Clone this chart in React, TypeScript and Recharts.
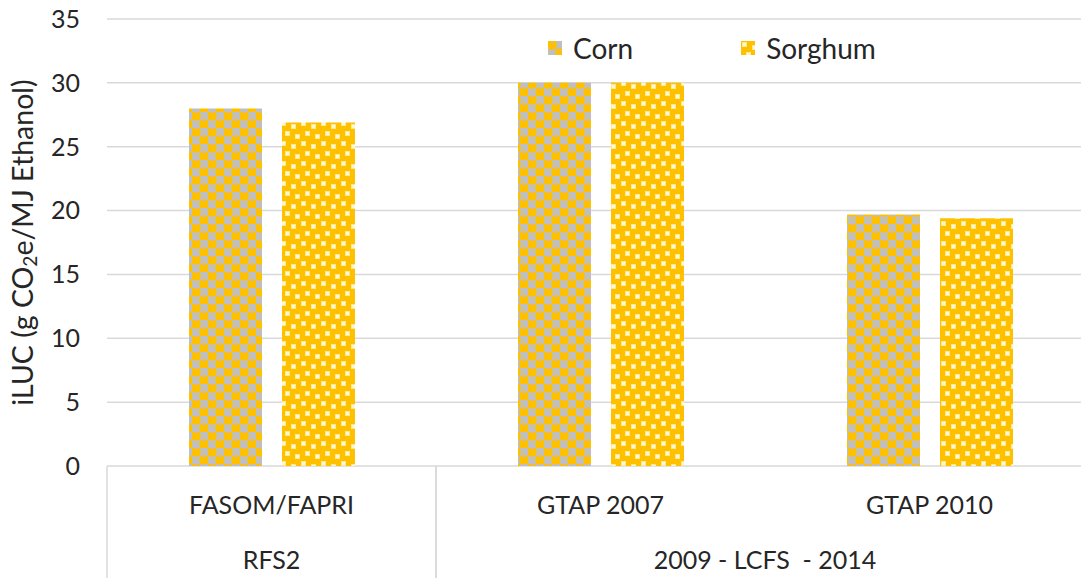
import React from 'react';
import { BarChart, Bar, XAxis, YAxis, CartesianGrid } from 'recharts';

const models = ['FASOM/FAPRI', 'GTAP 2007', 'GTAP 2010'];
const groups = ['RFS2', '2009 - LCFS  - 2014', '2009 - LCFS  - 2014'];
const cornValues = [28.0, 30.0, 19.7];
const sorghumValues = [26.9, 30.0, 19.4];
const yTicks = [0, 5, 10, 15, 20, 25, 30, 35];
const seriesNames = ['Corn', 'Sorghum'];

const data = models.map((m, i) => ({
  model: m,
  group: groups[i],
  corn: cornValues[i],
  sorghum: sorghumValues[i],
}));

const FONT = 'Lato, "Open Sans", sans-serif';
const TEXT = '#262626';
const GOLD = '#FFC000';
const GRAY = '#BFBFBF';
const LIGHT = '#FFE98F';
const LIGHTER = '#FFF7D6';
const GRID = '#D9D9D9';
const CHART_H = 578;

const confetti = [
  [1, 1],
  [11, 4],
  [5, 11],
  [15, 14],
];

const Patterns = () => (
  <svg width={0} height={0} style={{ position: 'absolute' }}>
    <defs>
      <pattern id="cornPat" width={16} height={16} patternUnits="userSpaceOnUse">
        <rect x={0} y={0} width={16} height={16} fill={GRAY} />
        <rect x={0} y={0} width={8} height={8} fill={GOLD} />
        <rect x={8} y={8} width={8} height={8} fill={GOLD} />
        <circle cx={4} cy={4} r={4.8} fill={GOLD} />
        <circle cx={12} cy={12} r={4.8} fill={GOLD} />
        <rect x={3} y={1} width={3} height={1} fill={GRAY} />
        <rect x={11} y={9} width={3} height={1} fill={GRAY} />
      </pattern>
      <pattern id="sorghumPat" width={20} height={20} patternUnits="userSpaceOnUse">
        <rect x={0} y={0} width={20} height={20} fill={GOLD} />
        {confetti.map(([cx, cy], k) => (
          <g key={k}>
            <rect x={cx} y={cy} width={5} height={5} fill={LIGHT} />
            <rect x={cx + 1} y={cy + 1} width={3} height={3} fill={LIGHTER} />
          </g>
        ))}
      </pattern>
    </defs>
  </svg>
);

const CategoryTick = (props: any) => {
  const { x, y, payload } = props;
  const half = payload.offset ?? 0;
  const i = payload.index;
  const g = groups[i];
  const isStart = i === 0 || groups[i - 1] !== g;
  let span = 0;
  if (isStart) {
    let j = i;
    while (j < groups.length && groups[j] === g) { span++; j++; }
  }
  const left = x - half;
  return (
    <g>
      <text x={x} y={y + 48} textAnchor="middle" fontSize={25} fill={TEXT} fontFamily={FONT}>
        {payload.value}
      </text>
      {isStart && (
        <>
          <line x1={left} y1={y} x2={left} y2={CHART_H} stroke={GRID} strokeWidth={1.5} />
          <line x1={left + span * 2 * half} y1={y} x2={left + span * 2 * half} y2={CHART_H} stroke={GRID} strokeWidth={1.5} />
          <text x={left + span * half} y={y + 103} textAnchor="middle" fontSize={25} fill={TEXT} fontFamily={FONT} style={{ whiteSpace: 'pre' }}>
            {g}
          </text>
        </>
      )}
    </g>
  );
};

const YLabel = (props: any) => {
  const vb = props.viewBox || {};
  const cx = 22;
  const cy = (vb.y ?? 19) + (vb.height ?? 447) / 2;
  return (
    <text
      x={cx}
      y={cy}
      transform={`rotate(-90, ${cx}, ${cy})`}
      textAnchor="middle"
      dominantBaseline="central"
      fontSize={28.5}
      fontWeight={400}
      fill={TEXT}
      fontFamily={FONT}
    >
      iLUC (g CO
      <tspan fontSize={19} dy={7}>2</tspan>
      <tspan dy={-7}>e/MJ Ethanol)</tspan>
    </text>
  );
};

const LegendBox = () => (
  <div style={{ position: 'absolute', left: 548, top: 30, display: 'flex', alignItems: 'center', fontFamily: FONT, fontSize: 28, color: TEXT, lineHeight: '36px' }}>
    {seriesNames.map((n, k) => (
      <div key={n} style={{ display: 'flex', alignItems: 'center', marginRight: k === 0 ? 108 : 0 }}>
        <svg width={14} height={14} style={{ marginRight: 11 }}>
          <rect width={14} height={14} fill={k === 0 ? 'url(#cornPat)' : 'url(#sorghumPat)'} />
        </svg>
        <span>{n}</span>
      </div>
    ))}
  </div>
);

export default function App() {
  return (
    <div style={{ position: 'absolute', left: 0, top: 0, width: 1081, height: 578, overflow: 'hidden', background: '#fff' }}>
      <Patterns />
      <BarChart
        width={1100}
        height={CHART_H}
        data={data}
        margin={{ top: 19, right: 6, bottom: 0, left: 0 }}
        barSize={73}
        barGap={20}
      >
        <CartesianGrid vertical={false} stroke={GRID} strokeWidth={1.5} />
        <XAxis
          dataKey="model"
          height={112}
          axisLine={false}
          tickLine={false}
          tickSize={0}
          tickMargin={0}
          interval={0}
          tick={<CategoryTick />}
        />
        <YAxis
          width={107}
          domain={[0, 35]}
          ticks={yTicks}
          axisLine={false}
          tickLine={false}
          tickMargin={21}
          tick={{ fontSize: 25, fill: TEXT, fontFamily: FONT }}
          label={<YLabel />}
        />
        <Bar dataKey="corn" name="Corn" fill="url(#cornPat)" isAnimationActive={false} />
        <Bar dataKey="sorghum" name="Sorghum" fill="url(#sorghumPat)" isAnimationActive={false} />
      </BarChart>
      <LegendBox />
    </div>
  );
}
